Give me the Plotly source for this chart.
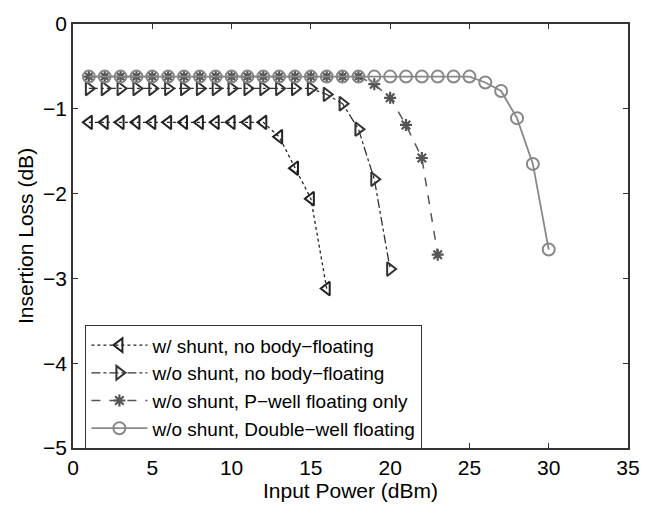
import plotly.graph_objects as go

x1 = list(range(1, 17))
y1 = [-1.16] * 12 + [-1.33, -1.70, -2.06, -3.12]

x2 = list(range(1, 21))
y2 = [-0.76] * 15 + [-0.83, -0.94, -1.24, -1.83, -2.89]

x3 = list(range(1, 24))
y3 = [-0.62] * 18 + [-0.71, -0.87, -1.19, -1.58, -2.72]

x4 = list(range(1, 31))
y4 = [-0.62] * 25 + [-0.69, -0.79, -1.11, -1.65, -2.66]

names = ["w/ shunt, no body\u2212floating",
         "w/o shunt, no body\u2212floating",
         "w/o shunt, P\u2212well floating only",
         "w/o shunt, Double\u2212well floating"]

x_ticks = [0, 5, 10, 15, 20, 25, 30, 35]
y_ticks = [0, -1, -2, -3, -4, -5]

FONT = "Liberation Sans, Arial, sans-serif"
FS = 21

fig = go.Figure()
fig.add_trace(go.Scatter(x=x1, y=y1, name=names[0], mode="lines+markers",
                         line=dict(color="#222222", width=1.3, dash="dot"),
                         marker=dict(symbol="triangle-left-open", size=12, color="#222222",
                                     line=dict(width=2, color="#222222"))))
fig.add_trace(go.Scatter(x=x2, y=y2, name=names[1], mode="lines+markers",
                         line=dict(color="#333333", width=1.3, dash="dashdot"),
                         marker=dict(symbol="triangle-right-open", size=12, color="#333333",
                                     line=dict(width=2, color="#333333"))))
fig.add_trace(go.Scatter(x=x3, y=y3, name=names[2], mode="lines+markers",
                         line=dict(color="#555555", width=1.5, dash="dash"),
                         marker=dict(symbol="asterisk-open", size=10, color="#555555",
                                     line=dict(width=2.2, color="#555555"))))
fig.add_trace(go.Scatter(x=x4, y=y4, name=names[3], mode="lines+markers",
                         line=dict(color="#888888", width=1.8),
                         marker=dict(symbol="circle-open", size=12, color="#888888",
                                     line=dict(width=2, color="#888888"))))

axis_common = dict(showgrid=False, zeroline=False, showline=True, linecolor="#333333",
                   linewidth=1.5, mirror="ticks", ticks="inside", ticklen=5,
                   tickcolor="#333333", tickfont=dict(size=FS, color="#000000", family=FONT))

fig.update_xaxes(range=[0, 35], tickvals=x_ticks, ticktext=[str(v) for v in x_ticks],
                 title=dict(text="Input Power (dBm)", font=dict(size=FS, color="#000", family=FONT),
                            standoff=0),
                 **axis_common)
fig.update_yaxes(range=[-5, 0], tickvals=y_ticks,
                 ticktext=[("\u2212" + str(-v)) if v < 0 else str(v) for v in y_ticks],
                 title=dict(text="Insertion Loss (dB)", font=dict(size=FS, color="#000", family=FONT),
                            standoff=4),
                 **axis_common)

fig.update_layout(
    width=654, height=506,
    margin=dict(l=73, r=26, t=16, b=54),
    plot_bgcolor="white", paper_bgcolor="white",
    font=dict(family=FONT, color="#000"),
    legend=dict(x=0.022, y=0.29, xanchor="left", yanchor="top",
                bordercolor="#333333", borderwidth=1.2, bgcolor="white",
                font=dict(size=19, family=FONT, color="#000"),
                tracegroupgap=0, itemwidth=56),
)

fig.write_html("out.html")
